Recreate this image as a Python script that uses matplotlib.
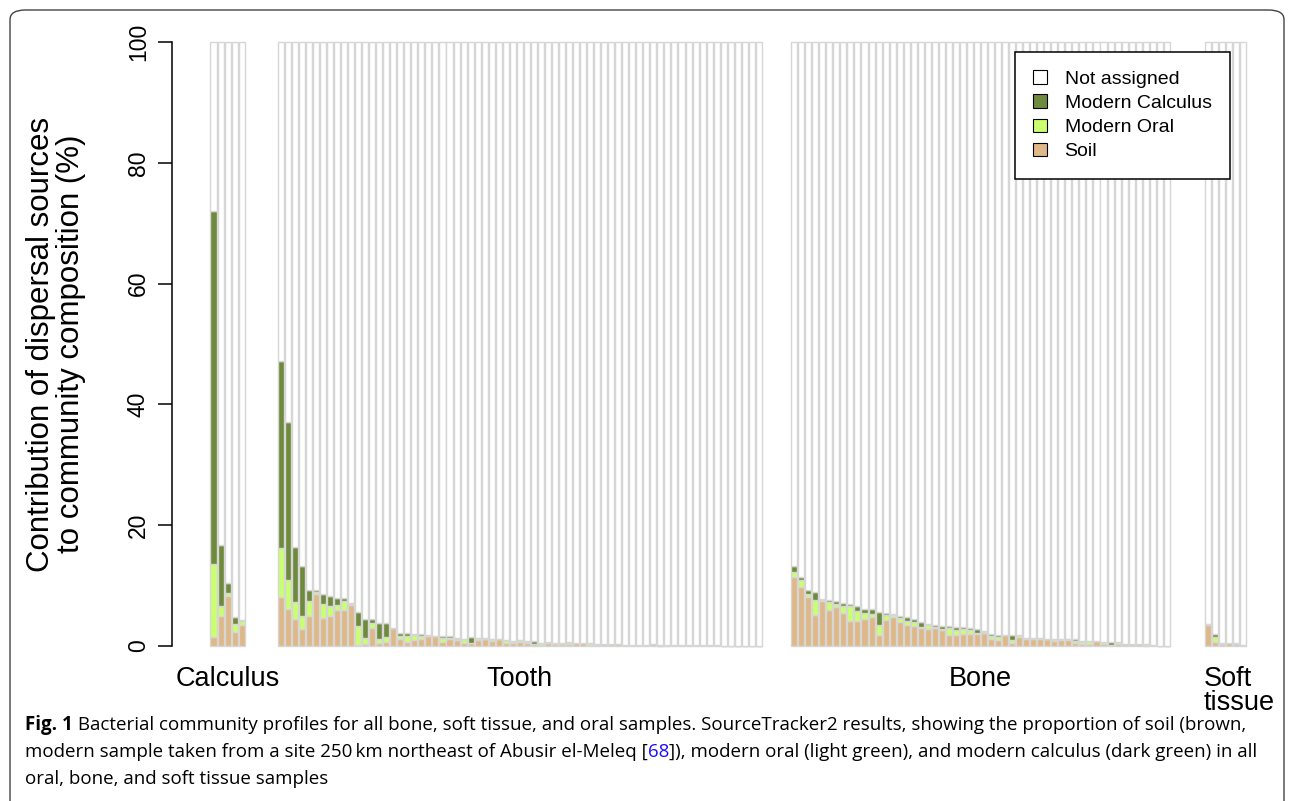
import numpy as np
import matplotlib
matplotlib.use("Agg")
import matplotlib.pyplot as plt
from matplotlib.patches import Patch, FancyBboxPatch

plt.rcParams['font.family'] = ['Liberation Sans', 'DejaVu Sans']

# sample groups and their values (% contribution)
groups = ["Calculus", "Tooth", "Bone", "Soft\ntissue"]

calculus_soil = [1.5, 5.0, 8.3, 2.3, 3.5]
calculus_oral = [12.1, 1.6, 0.5, 1.4, 0.6]
calculus_calc = [58.5, 10.1, 1.6, 1.1, 0.2]

tooth_soil = [8.1, 6.1, 4.4, 2.8, 4.9, 8.6, 4.6, 4.9, 6.0, 6.0,
              6.8, 0.1, 0.4, 2.9, 0.55, 0.66, 2.9, 1.2, 0.7, 1.0,
              1.2, 1.65, 1.6, 0.66, 1.1, 1.0, 0.45, 0.45, 1.0, 1.2,
              0.9, 1.15, 0.55, 0.55, 0.7, 0.55, 0.3, 0.2, 0.45, 0.25,
              0.25, 0.25, 0.45, 0.45, 0.15, 0.1, 0.35, 0.25, 0.25, 0.22,
              0.22, 0.2, 0.2, 0.25, 0.05, 0.05, 0.22, 0.22, 0.15, 0.15,
              0.1, 0.12, 0.1, 0.08, 0.08, 0.04, 0.04, 0.02, 0.0]
tooth_oral = [8.2, 4.8, 2.9, 2.1, 2.6, 0.3, 2.3, 1.7, 0.8, 1.5,
              0.1, 3.2, 1.0, 0.9, 0.6, 0.8, 0.0, 0.4, 1.0, 0.8,
              0.5, 0.0, 0.1, 0.7, 0.2, 0.2, 0.7, 0.1, 0.25, 0.0,
              0.3, 0.0, 0.5, 0.1, 0.25, 0.1, 0.1, 0.3, 0.1, 0.3,
              0.3, 0.35, 0.05, 0.05, 0.3, 0.25, 0.0, 0.0, 0.0, 0.0,
              0.0, 0.0, 0.0, 0.0, 0.0, 0.15, 0.0, 0.0, 0.0, 0.0,
              0.0, 0.0, 0.0, 0.0, 0.0, 0.0, 0.0, 0.0, 0.0]
tooth_calc = [30.9, 26.2, 9.1, 8.3, 1.8, 0.3, 1.7, 1.6, 1.2, 0.4,
              0.3, 2.3, 3.0, 0.6, 2.6, 2.3, 0.0, 0.5, 0.4, 0.2,
              0.3, 0.15, 0.0, 0.3, 0.3, 0.2, 0.0, 0.9, 0.0, 0.1,
              0.0, 0.0, 0.0, 0.15, 0.05, 0.25, 0.4, 0.05, 0.15, 0.0,
              0.0, 0.0, 0.0, 0.0, 0.0, 0.0, 0.0, 0.0, 0.0, 0.0,
              0.0, 0.0, 0.0, 0.0, 0.15, 0.0, 0.0, 0.0, 0.0, 0.0,
              0.08, 0.0, 0.0, 0.0, 0.0, 0.0, 0.0, 0.0, 0.0]

bone_soil = [11.4, 9.7, 8.1, 5.2, 7.4, 6.0, 6.5, 5.4, 4.2, 4.2,
             4.5, 4.75, 1.9, 4.3, 4.75, 3.9, 3.5, 3.3, 3.0, 2.8,
             2.9, 2.65, 1.9, 1.9, 2.0, 2.0, 2.0, 2.2, 1.15, 1.0,
             1.75, 0.45, 1.55, 1.2, 1.2, 1.2, 1.1, 0.9, 1.0, 1.0,
             0.55, 0.3, 0.35, 0.9, 0.25, 0.1, 0.3, 0.3, 0.3, 0.3,
             0.05, 0.1, 0.05, 0.02]
bone_oral = [0.8, 1.3, 0.5, 2.4, 0.2, 1.3, 0.4, 1.2, 2.5, 1.6,
             0.9, 0.6, 1.5, 0.9, 0.3, 0.7, 0.6, 0.6, 0.2, 0.6,
             0.3, 0.2, 1.1, 0.8, 0.8, 0.7, 0.15, 0.2, 0.5, 0.5,
             0.1, 0.5, 0.3, 0.2, 0.1, 0.1, 0.1, 0.2, 0.1, 0.1,
             0.2, 0.4, 0.4, 0.0, 0.4, 0.0, 0.3, 0.0, 0.0, 0.0,
             0.2, 0.0, 0.0, 0.0]
bone_calc = [1.1, 0.5, 0.6, 1.3, 0.2, 0.3, 0.5, 0.6, 0.2, 0.8,
             0.8, 0.7, 2.3, 0.2, 0.2, 0.3, 0.7, 0.6, 0.7, 0.3,
             0.2, 0.45, 0.3, 0.5, 0.3, 0.2, 0.6, 0.1, 0.3, 0.3,
             0.0, 0.9, 0.0, 0.0, 0.0, 0.0, 0.0, 0.0, 0.0, 0.0,
             0.4, 0.2, 0.15, 0.0, 0.0, 0.5, 0.0, 0.0, 0.0, 0.0,
             0.0, 0.0, 0.0, 0.0]

soft_soil = [3.4, 0.66, 0.3, 0.45, 0.3, 0.1]
soft_oral = [0.2, 0.9, 0.1, 0.05, 0.15, 0.03]
soft_calc = [0.1, 0.4, 0.15, 0.0, 0.05, 0.0]

legend_labels = ["Not assigned", "Modern Calculus", "Modern Oral", "Soil"]
col_none = "white"
col_calc = "#6E8B3D"
col_oral = "#CAFF70"
col_soil = "#DEB887"
edge = "#d6d6d6"

# where each group starts along the x axis (bar units)
group_start = [0, 9.57, 82.6, 141.4]

fig = plt.figure(figsize=(12.9, 8.01), dpi=100)
W, H = 1290, 801
ax = fig.add_axes([172 / W, 155 / H, (1250 - 172) / W, 604 / H])

data = [(calculus_soil, calculus_oral, calculus_calc),
        (tooth_soil, tooth_oral, tooth_calc),
        (bone_soil, bone_oral, bone_calc),
        (soft_soil, soft_oral, soft_calc)]

for (soil, oral, calc), x0 in zip(data, group_start):
    soil = np.array(soil)
    oral = np.array(oral)
    calc = np.array(calc)
    x = x0 + np.arange(len(soil)) + 0.5
    rest = 100 - soil - oral - calc
    kw = dict(width=0.86, edgecolor=edge, linewidth=1.0, clip_on=False)
    ax.bar(x, soil, color=col_soil, **kw)
    ax.bar(x, oral, bottom=soil, color=col_oral, **kw)
    ax.bar(x, calc, bottom=soil + oral, color=col_calc, **kw)
    ax.bar(x, rest, bottom=soil + oral + calc, color=col_none, **kw)

ax.set_xlim((172 - 210) / 7.03, (1250 - 210) / 7.03)
ax.set_ylim(0, 100)
for s in ["top", "right", "bottom"]:
    ax.spines[s].set_visible(False)
ax.spines["left"].set_linewidth(1.1)
ax.set_xticks([])
ax.set_yticks([0, 20, 40, 60, 80, 100])
ax.tick_params(axis="y", length=10, width=1.1, pad=6, labelsize=16.5)
for t in ax.get_yticklabels():
    t.set_rotation(90)
    t.set_va("center")

# group names under the bars
names_x = [2.5, 9.57 + 34.5, 82.6 + 27, 141.4]
for name, gx in zip(groups, names_x):
    if "\n" in name:
        ax.text(gx, -3.3, name, ha="left", va="top", fontsize=19.5,
                linespacing=0.9, clip_on=False)
    else:
        ax.text(gx, -3.3, name, ha="center", va="top", fontsize=19.5,
                clip_on=False)

fig.text(56 / W, 1 - 344 / H,
         "Contribution of dispersal sources\nto community composition (%)",
         rotation=90, ha="center", va="center", fontsize=22.5,
         linespacing=1.0, multialignment="center")

handles = [Patch(facecolor=c, edgecolor="black", linewidth=0.8)
           for c in [col_none, col_calc, col_oral, col_soil]]
leg = fig.legend(handles, legend_labels, loc="upper left",
                 bbox_to_anchor=(1015 / W, 1 - 52 / H), fontsize=14,
                 handlelength=0.7, handleheight=0.7, labelspacing=0.33,
                 handletextpad=0.9, borderpad=0.95, borderaxespad=0,
                 fancybox=False, framealpha=1)
leg.get_frame().set_edgecolor("black")
leg.get_frame().set_linewidth(1.1)

# outer rounded box
box = FancyBboxPatch((10 / W, -0.1), 1274 / W, 1.1 - 10 / H,
                     boxstyle="round,pad=0,rounding_size=0.012",
                     transform=fig.transFigure, fill=False,
                     edgecolor="#444444", linewidth=1.0)
fig.patches.append(box)

# caption, pieced together so the bold label and the link colour fit
cap_font = ["Open Sans", "DejaVu Sans"]
cap_size = 13.5
cap_lines = [
    [("Fig. 1", "bold", "black"),
     (" Bacterial community profiles for all bone, soft tissue, and oral samples. "
      "SourceTracker2 results, showing the proportion of soil (brown,", "normal", "black")],
    [("modern sample taken from a site 250\u2009km northeast of Abusir el-Meleq [", "normal", "black"),
     ("68", "normal", "#1a0dff"),
     ("]), modern oral (light green), and modern calculus (dark green) in all", "normal", "black")],
    [("oral, bone, and soft tissue samples", "normal", "black")],
]
renderer = fig.canvas.get_renderer()
baselines = [730, 757, 784]
for line, yb in zip(cap_lines, baselines):
    xp = 25
    for txt, wt, col in line:
        t = fig.text(xp / W, 1 - yb / H, txt, fontsize=cap_size, weight=wt,
                     color=col, family=cap_font, ha="left", va="baseline")
        bb = t.get_window_extent(renderer=renderer)
        xp += bb.width

fig.savefig("out.png", dpi=100)
